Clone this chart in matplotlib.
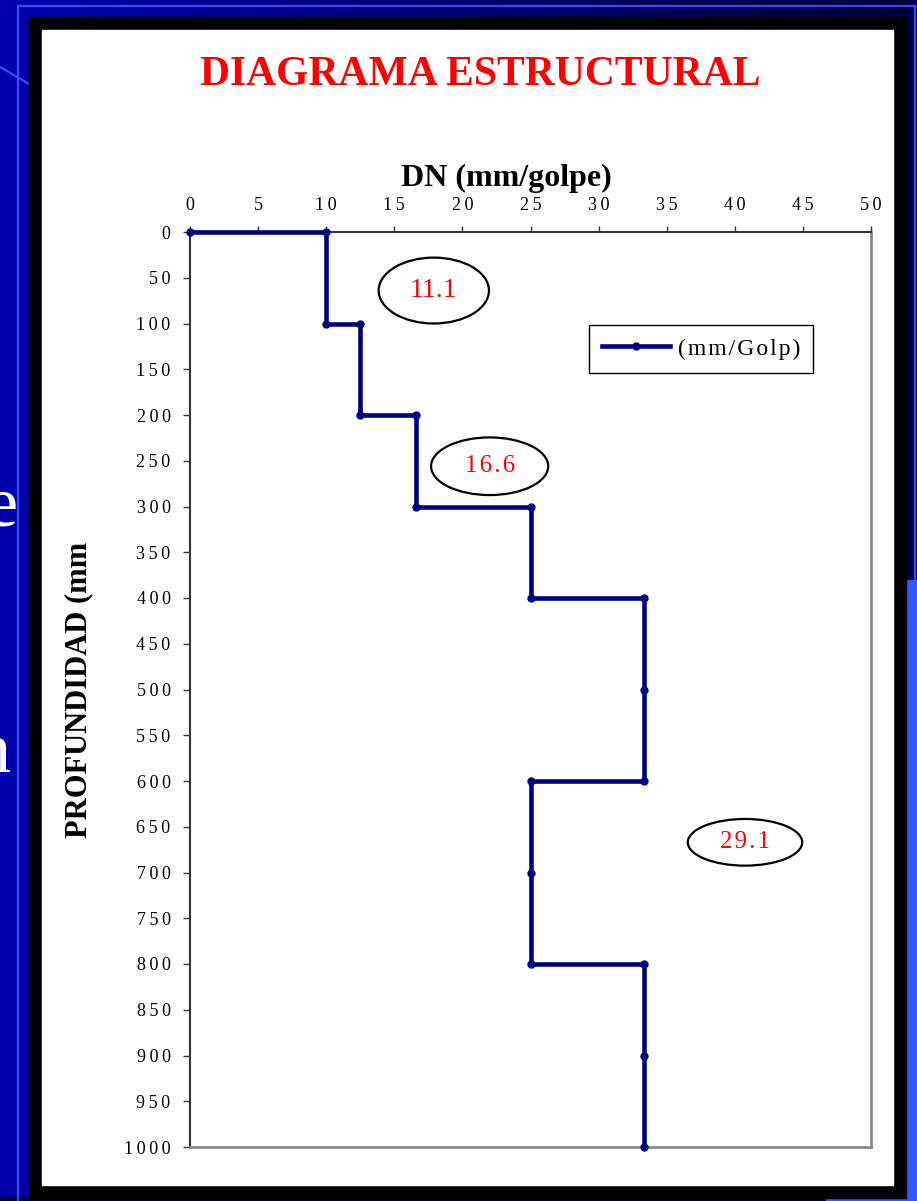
import numpy as np
import matplotlib
matplotlib.use("Agg")
import matplotlib.pyplot as plt
from matplotlib.patches import Rectangle, Ellipse
from matplotlib.lines import Line2D
from matplotlib.ticker import FuncFormatter

# DCP penetration profile: DN (mm/golpe) vs depth (mm)
dn = [0, 10, 10, 12.5, 12.5, 16.6, 16.6, 25, 25, 33.3, 33.3, 33.3, 25, 25, 25, 33.3, 33.3, 33.3]
depth = [0, 0, 100, 100, 200, 200, 300, 300, 400, 400, 500, 600, 600, 700, 800, 800, 900, 1000]

layer_labels = ["11.1", "16.6", "29.1"]

x_ticks = list(range(0, 51, 5))
y_ticks = list(range(0, 1001, 50))

# layout (ellipse centre x, centre y, width, height in data units, font size)
layer_boxes = [(17.9, 64, 8.1, 72, 20), (22.0, 256, 8.6, 63, 18), (40.75, 667, 8.4, 51, 18)]

W, H = 917, 1201
SERIF = ["Liberation Serif", "DejaVu Serif"]
THIN = "\u2009"
HAIR = "\u200a"

plt.rcParams["font.family"] = SERIF

fig = plt.figure(figsize=(W / 100, H / 100), dpi=100)
fig.patch.set_facecolor("#0000aa")

# slide background, drawn in pixel coordinates
bg = fig.add_axes([0, 0, 1, 1])
bg.set_xlim(0, W)
bg.set_ylim(H, 0)
bg.axis("off")

grad = np.zeros((1, 256, 3))
grad[0, :, 2] = np.linspace(0.68, 0.22, 256)
bg.imshow(grad, extent=(0, W, 17, 0), aspect="auto", zorder=0)
bg.add_patch(Rectangle((906, 0), 11, 590, color="#00004a", zorder=1))
bg.add_patch(Rectangle((906, 580), 11, H - 580, color="#3355ff", zorder=1))
bg.add_patch(Rectangle((0, 1197), 826, 4, color="#00003a", zorder=1))
bg.add_patch(Rectangle((826, 1195), W - 826, 6, color="#3355ff", zorder=1))

for xs, ys in [([18, 18], [6, H]), ([18, 915], [6, 6]), ([915, 915], [6, 580]), ([0, 29], [67, 84])]:
    bg.add_line(Line2D(xs, ys, color="#3a4cf0", lw=1.6, zorder=2))

# fragments of slide text peeking out from behind the frame
bg.text(17, 525, "e", color="white", fontsize=52, ha="right", va="baseline", zorder=2)
bg.text(10, 772, "n", color="white", fontsize=52, ha="right", va="baseline", zorder=2)

bg.add_patch(Rectangle((29, 17), 906 - 29, 1198 - 17, color="black", zorder=3))
bg.add_patch(Rectangle((42, 30), 893 - 42, 1185 - 30, color="white", zorder=4))

bg.text(480, 85, "DIAGRAMA ESTRUCTURAL", color="#ff0000", fontsize=30,
        fontweight="bold", ha="center", va="baseline", zorder=5)

# chart
ax = fig.add_axes([190 / W, 1 - 1147 / H, 681 / W, 915 / H])
ax.set_facecolor("white")
ax.set_xlim(0, 50)
ax.set_ylim(1000, 0)
ax.xaxis.tick_top()
ax.xaxis.set_label_position("top")
ax.set_xticks(x_ticks)
ax.set_yticks(y_ticks)

spaced = FuncFormatter(lambda v, pos: THIN.join(str(int(v))))
ax.xaxis.set_major_formatter(spaced)
ax.yaxis.set_major_formatter(spaced)
ax.tick_params(axis="x", direction="out", length=4, width=1, color="#333333",
               labelsize=13, pad=9)
ax.tick_params(axis="y", direction="out", length=5, width=1, color="#333333",
               labelsize=13, pad=9)

for side in ("top", "left"):
    ax.spines[side].set_color("#333333")
    ax.spines[side].set_linewidth(1.5)
for side in ("right", "bottom"):
    ax.spines[side].set_color("#888888")
    ax.spines[side].set_linewidth(2)

ax.set_xlabel("DN (mm/golpe)", fontsize=23, fontweight="bold")
ax.xaxis.set_label_coords(0.464, 1 + (232 - 186) / 915)
ax.set_ylabel("PROFUNDIDAD (mm", fontsize=22, fontweight="bold")
ax.yaxis.set_label_coords((93 - 190) / 681, 0.5)

ax.plot(dn, depth, color="#000080", lw=3.3, marker="o", ms=5,
        label=HAIR.join("(mm/Golp)"), clip_on=False, zorder=3)

for (cx, cy, w, h, fs), lab in zip(layer_boxes, layer_labels):
    ax.add_patch(Ellipse((cx, cy), w, h, facecolor="white", edgecolor="black", lw=1.6, zorder=4))
    ax.text(cx, cy, lab if lab == "11.1" else HAIR.join(lab), color="#ff0000",
            fontsize=fs, ha="center", va="center", zorder=5)

leg = ax.legend(loc="upper left", bbox_to_anchor=((589 - 190) / 681, 1 - (325 - 232) / 915),
                borderaxespad=0, fancybox=False, framealpha=1, edgecolor="black",
                fontsize=17, handlelength=2.9, handletextpad=0.3, numpoints=1,
                borderpad=0.55)
leg.get_frame().set_linewidth(1.0)

fig.savefig("out.png", dpi=100, facecolor=fig.get_facecolor())
